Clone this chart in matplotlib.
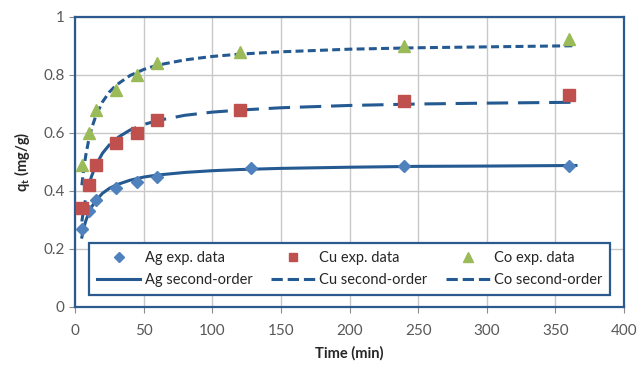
import matplotlib
matplotlib.use("Agg")
import matplotlib.pyplot as plt
from matplotlib.lines import Line2D

plt.rcParams['font.family'] = ['Lato', 'DejaVu Sans']

# experimental data
t_exp = [5, 10, 15, 30, 45, 60, 120, 240, 360]
t_ag = [5, 10, 15, 30, 45, 60, 128, 240, 360]
ag_exp = [0.27, 0.33, 0.37, 0.41, 0.43, 0.45, 0.48, 0.485, 0.487]
cu_exp = [0.34, 0.42, 0.49, 0.565, 0.60, 0.645, 0.68, 0.71, 0.73]
co_exp = [0.49, 0.60, 0.68, 0.75, 0.80, 0.84, 0.88, 0.90, 0.925]

# second-order model curves
t_fit = [5, 6, 7, 8, 10, 12, 15, 20, 25, 30, 40, 50, 60, 80, 100, 120, 150, 200, 250, 300, 365]
ag_fit = [0.241, 0.264, 0.283, 0.299, 0.324, 0.344, 0.366, 0.392, 0.409, 0.421, 0.437, 0.448,
          0.455, 0.464, 0.470, 0.474, 0.478, 0.482, 0.485, 0.486, 0.488]
cu_fit = [0.295, 0.327, 0.355, 0.379, 0.419, 0.450, 0.487, 0.530, 0.559, 0.581, 0.610, 0.629,
          0.643, 0.661, 0.672, 0.679, 0.687, 0.695, 0.700, 0.703, 0.706]
co_fit = [0.420, 0.462, 0.497, 0.527, 0.576, 0.614, 0.657, 0.707, 0.741, 0.765, 0.798, 0.819,
          0.834, 0.852, 0.864, 0.872, 0.880, 0.889, 0.894, 0.897, 0.901]

x_ticks = [0, 50, 100, 150, 200, 250, 300, 350, 400]
y_ticks = [0, 0.2, 0.4, 0.6, 0.8, 1.0]
y_labels = ['0', '0.2', '0.4', '0.6', '0.8', '1']

line_c = '#245A91'
frame_c = '#2B5B8E'
LW = 2.2
cu_ls = (0, (7.0, 3.2))
co_ls = (0, (2.6, 1.4))

fig = plt.figure(figsize=(6.37, 3.68), dpi=100)
ax = fig.add_axes([75/637, 1-307/368, 549/637, 290/368])

ax.plot(t_fit, ag_fit, color=line_c, lw=LW, ls='-', label='Ag second-order', zorder=3)
ax.plot(t_fit, cu_fit, color=line_c, lw=LW, ls=cu_ls, label='Cu second-order', zorder=3)
ax.plot(t_fit, co_fit, color=line_c, lw=LW, ls=co_ls, label='Co second-order', zorder=3)

ax.plot(t_ag, ag_exp, 'D', color='#4F81BD', ms=6.5, ls='none', label='Ag exp. data', zorder=4)
ax.plot(t_exp, cu_exp, 's', color='#C0504D', ms=8, ls='none', label='Cu exp. data', zorder=4)
ax.plot(t_exp, co_exp, '^', color='#9BBB59', ms=9, ls='none', label='Co exp. data', zorder=4)

ax.set_xlim(0, 400)
ax.set_ylim(0, 1)
ax.set_xticks(x_ticks)
ax.set_yticks(y_ticks)
ax.set_yticklabels(y_labels)
ax.grid(True, color='#C8C8C8', lw=1.0)
ax.set_axisbelow(True)
for s in ax.spines.values():
    s.set_color(frame_c)
    s.set_linewidth(1.6)
ax.tick_params(axis='both', colors='#8C8C8C', labelcolor='#595959', labelsize=11, length=4, width=0.8)
ax.tick_params(axis='x', pad=8)

ax.set_xlabel('Time (min)', fontsize=10.5, fontweight='bold', color='#262626', labelpad=6)
ax.set_ylabel(r'q$_\mathregular{t}$ (mg/g)', fontsize=10.5, fontweight='bold', color='#262626', labelpad=8)

h = {l.get_label(): l for l in ax.get_lines()}
order = ['Ag exp. data', 'Ag second-order', 'Cu exp. data', 'Cu second-order',
         'Co exp. data', 'Co second-order']
handles = []
for k in order:
    ln = h[k]
    if 'exp' in k:
        handles.append(Line2D([], [], marker=ln.get_marker(), color=ln.get_color(),
                              ms=ln.get_markersize()*0.8, ls='none'))
    else:
        handles.append(Line2D([], [], color=line_c, lw=LW, ls=ln.get_linestyle()))
leg = ax.legend(handles, order, ncol=3, loc='lower left', mode='expand',
                bbox_to_anchor=(0.013, 0.017, 0.974, 0.18), fontsize=10.5,
                frameon=True, fancybox=False, edgecolor=frame_c, handlelength=3.0,
                handletextpad=0.3, borderpad=0.5, labelspacing=0.6, columnspacing=1.0)
leg.get_frame().set_linewidth(1.6)
leg.get_frame().set_facecolor('white')
leg.get_frame().set_alpha(1)
for txt in leg.get_texts():
    txt.set_color('#262626')

fig.savefig('out.png', dpi=100)
